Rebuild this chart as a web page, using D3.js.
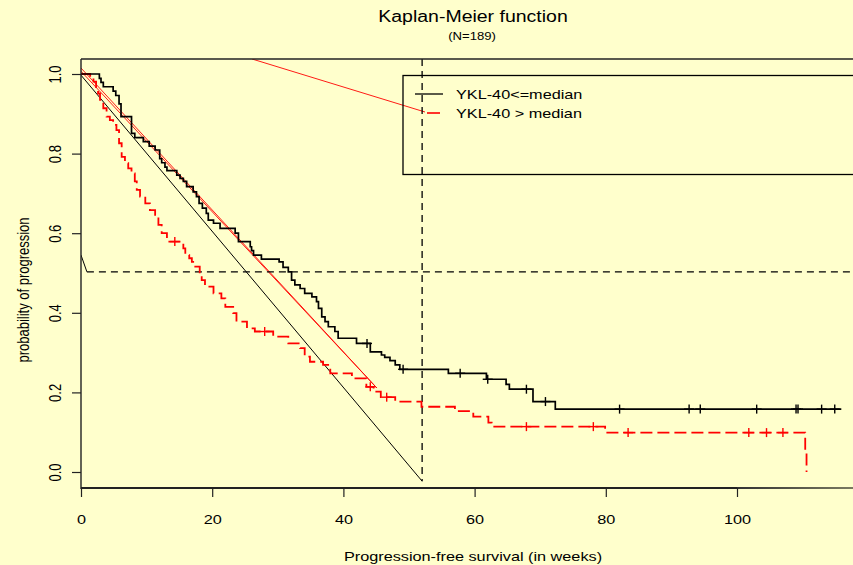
<!DOCTYPE html>
<html><head><meta charset="utf-8">
<script src="https://cdn.jsdelivr.net/npm/d3@7"></script>
<style>
html,body{margin:0;padding:0;background:#ffffcc;}
svg{display:block;font-family:"Liberation Sans",Arial,sans-serif;}
</style></head>
<body>
<svg id="c" width="853" height="565"></svg>
<script>
// ---- data ----
const lowTimes = [0,2.8,3.05,3.4,4.9,5.3,5.8,6.1,7.7,8.2,9.5,10.4,11.3,12.0,12.3,12.8,13.1,14.6,15.1,15.6,16.1,17.1,17.6,18.0,18.5,19.1,19.4,20.2,21.2,23.5,24.0,25.8,26.0,26.3,27.5,30.2,30.8,31.6,32.1,32.6,33.4,34.1,35.2,35.9,36.2,36.7,37.2,37.7,38.7,39.2,42.0,44.1,45.8,46.3,47.1,47.9,48.6,56.0,61.8,64.8,65.3,68.9,72.3,115.9];
const lowSurv  = [1.0,0.989,0.979,0.968,0.957,0.946,0.925,0.893,0.851,0.840,0.830,0.819,0.809,0.787,0.777,0.766,0.757,0.746,0.738,0.730,0.717,0.704,0.692,0.675,0.663,0.650,0.633,0.625,0.612,0.600,0.579,0.566,0.556,0.545,0.535,0.528,0.514,0.503,0.482,0.470,0.461,0.449,0.440,0.428,0.411,0.390,0.378,0.365,0.353,0.336,0.323,0.302,0.294,0.288,0.280,0.269,0.258,0.248,0.233,0.220,0.208,0.177,0.158,0.158];
const lowCensor = [43.6,49.1,57.8,62.0,67.9,70.8,82.1,92.7,94.4,103.0,109.0,109.3,112.9,114.9];

const highTimes = [0,1.4,1.9,2.3,2.6,2.9,3.4,3.9,4.4,4.9,5.4,5.8,6.2,6.7,7.2,7.7,8.2,8.5,9.0,9.8,10.5,11.3,11.8,12.3,13.1,15.6,15.9,16.5,16.9,17.1,18.1,18.4,18.9,20.2,21.4,22.0,23.2,23.7,25.3,26.5,29.3,31.6,33.4,34.1,34.9,36.9,38.0,41.3,43.5,44.6,45.7,47.9,51.9,57.0,59.8,62.1,62.6,79.9,110.4,110.6];
const highSurv  = [1.0,0.990,0.981,0.965,0.951,0.935,0.914,0.893,0.884,0.872,0.859,0.826,0.792,0.776,0.763,0.750,0.730,0.709,0.692,0.675,0.658,0.642,0.621,0.600,0.579,0.562,0.545,0.537,0.528,0.516,0.499,0.482,0.466,0.449,0.436,0.415,0.399,0.378,0.361,0.353,0.340,0.323,0.311,0.290,0.277,0.269,0.248,0.235,0.214,0.202,0.188,0.177,0.164,0.153,0.139,0.124,0.114,0.099,0.052,0.0];
const highCensor = [14.3,28.0,44.1,46.6,67.9,78.1,83.4,101.8,104.5,107.0];

// reference lines drawn on the plot [x1,y1,x2,y2] in data units
const blackLines = [[0,0.997,52.0,-0.023],[0,0.545,0.9,0.503]];
const redLines   = [[0,1.015,45.1,0.211],[0,1.007,45.1,0.211],[26.07,1.0377,52.44,0.9045]];
const medianH = [0.9,0.503,120,0.503];
const medianV = [52.0,1.0377,52.0,-0.023];

const xTicks = [0,20,40,60,80,100];
const yTicks = [0.0,0.2,0.4,0.6,0.8,1.0];
const legendLabels = ["YKL-40<=median","YKL-40 > median"];
const title = "Kaplan-Meier function";
const subtitle = "(N=189)";
const xTitle = "Progression-free survival (in weeks)";
const yTitle = "probability of progression";

// ---- drawing ----
const SX = 1.25; // horizontal stretch of the original
const svg = d3.select("#c");
const x = d3.scaleLinear().domain([0,100]).range([81,737]);
const y = d3.scaleLinear().domain([0,1]).range([472,74]);
const L=81, R=853, T=59, B=488;

svg.append("defs").append("clipPath").attr("id","pc")
  .append("rect").attr("x",L).attr("y",T).attr("width",R-L).attr("height",B-T);

const plot = svg.append("g").attr("clip-path","url(#pc)");

function seg(g, d, color, w, dash){
  g.append("line").attr("x1",x(d[0])).attr("y1",y(d[1])).attr("x2",x(d[2])).attr("y2",y(d[3]))
   .attr("stroke",color).attr("stroke-width",w).attr("stroke-dasharray",dash||null);
}
blackLines.forEach(d=>seg(plot,d,"#000",1.0));
redLines.forEach(d=>seg(plot,d,"#ff0000",0.9));
seg(plot,medianH,"#000",1.3,"7,5");
seg(plot,medianV,"#000",1.3,"7,5");

const step = d3.line().x(d=>x(d[0])).y(d=>y(d[1])).curve(d3.curveStepAfter);
const lowData = lowTimes.map((t,i)=>[t,lowSurv[i]]);
const highData = highTimes.map((t,i)=>[t,highSurv[i]]);
plot.append("path").attr("d",step(highData)).attr("fill","none").attr("stroke","#ff0000")
  .attr("stroke-width",1.8).attr("stroke-dasharray","12,5");
plot.append("path").attr("d",step(lowData)).attr("fill","none").attr("stroke","#000")
  .attr("stroke-width",1.7);

function survAt(data,t){ let v=data[0][1]; for(const d of data){ if(d[0]<=t) v=d[1]; } return v; }
function censor(times,data,color){
  times.forEach(t=>{
    const cx=x(t), cy=y(survAt(data,t));
    plot.append("line").attr("x1",cx-5).attr("x2",cx+5).attr("y1",cy).attr("y2",cy).attr("stroke",color).attr("stroke-width",1.4);
    plot.append("line").attr("x1",cx).attr("x2",cx).attr("y1",cy-4.5).attr("y2",cy+4.5).attr("stroke",color).attr("stroke-width",1.4);
  });
}
censor(lowCensor,lowData,"#000");
censor(highCensor,highData,"#ff0000");

// legend
const lg = svg.append("g");
lg.append("rect").attr("x",403).attr("y",75.5).attr("width",500).attr("height",99)
  .attr("fill","none").attr("stroke","#000").attr("stroke-width",1.3);
lg.append("line").attr("x1",415).attr("x2",443).attr("y1",94).attr("y2",94).attr("stroke","#000").attr("stroke-width",1.3);
lg.append("line").attr("x1",427).attr("x2",440).attr("y1",113).attr("y2",113).attr("stroke","#ff0000").attr("stroke-width",1.6);
legendLabels.forEach((s,i)=>{
  lg.append("text").attr("transform",`translate(456,${98.5+19*i}) scale(${SX},1)`)
    .attr("font-size",13).attr("fill","#000").text(s);
});

// frame
const fr = svg.append("g");
fr.append("line").attr("x1",L).attr("x2",R).attr("y1",T).attr("y2",T).attr("stroke","#222").attr("stroke-width",1.4);
fr.append("line").attr("x1",L).attr("x2",L).attr("y1",T).attr("y2",B+1).attr("stroke","#222").attr("stroke-width",1.4);
const gr = svg.append("defs").append("linearGradient").attr("id","bg").attr("x1","0").attr("x2","1");
gr.append("stop").attr("offset","0").attr("stop-color","#333");
gr.append("stop").attr("offset","1").attr("stop-color","#7a7a60");
fr.append("line").attr("x1",L).attr("x2",x(100)).attr("y1",B).attr("y2",B).attr("stroke","#222").attr("stroke-width",2);
fr.append("rect").attr("x",x(100)).attr("y",B-1).attr("width",R-x(100)).attr("height",2).attr("fill","url(#bg)");

// axes
const xa = svg.append("g").attr("transform",`translate(0,${B})`)
  .call(d3.axisBottom(x).tickValues(xTicks).tickSize(9).tickPadding(0).tickFormat(d3.format("d")));
xa.select(".domain").remove();
xa.selectAll("line").attr("stroke","#222").attr("stroke-width",1.2);
xa.selectAll("text").attr("y",0).attr("dy",0).attr("transform",`translate(0,36) scale(${SX},1)`)
  .attr("font-size",13).attr("fill","#000").attr("font-family","Liberation Sans, Arial, sans-serif");

const ya = svg.append("g").attr("transform",`translate(${L},0)`)
  .call(d3.axisLeft(y).tickValues(yTicks).tickSize(9).tickFormat(d3.format(".1f")));
ya.select(".domain").remove();
ya.selectAll("line").attr("stroke","#222").attr("stroke-width",1.2);
ya.selectAll("text").attr("x",0).attr("y",0).attr("dy","0.35em").attr("text-anchor","middle")
  .attr("transform",`translate(-26,0) scale(${SX},1) rotate(-90)`)
  .attr("font-size",13).attr("fill","#000").attr("font-family","Liberation Sans, Arial, sans-serif");

// titles
svg.append("text").attr("transform",`translate(473,22) scale(${SX},1)`).attr("text-anchor","middle")
  .attr("font-size",15.6).attr("fill","#000").text(title);
svg.append("text").attr("transform",`translate(472,40) scale(${SX},1)`).attr("text-anchor","middle")
  .attr("font-size",10.5).attr("fill","#000").text(subtitle);
svg.append("text").attr("transform",`translate(473,561) scale(${SX},1)`).attr("text-anchor","middle")
  .attr("font-size",13).attr("fill","#000").text(xTitle);
svg.append("text").attr("transform",`translate(23,290) scale(${SX},1) rotate(-90)`).attr("text-anchor","middle")
  .attr("dy","0.35em").attr("font-size",13).attr("fill","#000").text(yTitle);
</script>
</body></html>
